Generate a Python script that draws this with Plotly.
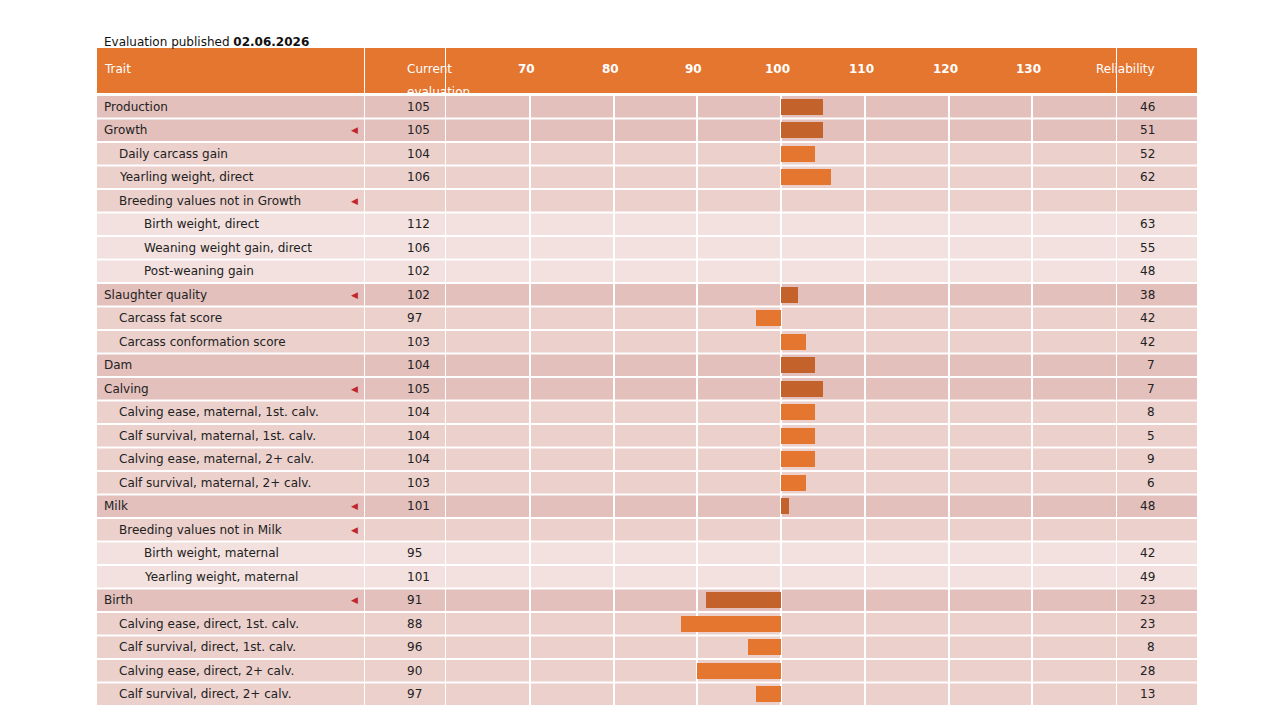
import plotly.graph_objects as go

traits = ["Production", "Growth", "Daily carcass gain", "Yearling weight, direct",
          "Breeding values not in Growth", "Birth weight, direct", "Weaning weight gain, direct",
          "Post-weaning gain", "Slaughter quality", "Carcass fat score", "Carcass conformation score",
          "Dam", "Calving", "Calving ease, maternal, 1st. calv.", "Calf survival, maternal, 1st. calv.",
          "Calving ease, maternal, 2+ calv.", "Calf survival, maternal, 2+ calv.", "Milk",
          "Breeding values not in Milk", "Birth weight, maternal", "Yearling weight, maternal",
          "Birth", "Calving ease, direct, 1st. calv.", "Calf survival, direct, 1st. calv.",
          "Calving ease, direct, 2+ calv.", "Calf survival, direct, 2+ calv."]
levels = [0, 0, 1, 1, 1, 2, 2, 2, 0, 1, 1, 0, 0, 1, 1, 1, 1, 0, 1, 2, 2, 0, 1, 1, 1, 1]
evaluation = [105, 105, 104, 106, None, 112, 106, 102, 102, 97, 103, 104, 105, 104, 104, 104, 103,
              101, None, 95, 101, 91, 88, 96, 90, 97]
reliability = [46, 51, 52, 62, None, 63, 55, 48, 38, 42, 42, 7, 7, 8, 5, 9, 6, 48, None, 42, 49,
               23, 23, 8, 28, 13]
expandable = ["Growth", "Breeding values not in Growth", "Slaughter quality", "Calving", "Milk",
              "Breeding values not in Milk", "Birth"]
tick_vals = [70, 80, 90, 100, 110, 120, 130]

W, H = 1280, 720
px = lambda x: x / W
py = lambda y: 1 - y / H
ORANGE = "#e5762f"
DARK = "#c4622b"
row_colors = {0: "#e3c0bc", 1: "#ebd0cc", 2: "#f2e1de"}
FONT = "DejaVu Sans"
cols = [(89, 356), (357, 437), (438, 1108), (1109, 1189)]
top, bottom = 87, 698
n = len(traits)

# bars only for rows shown (not in hidden-group children)
bar_y, bar_x, bar_c = [], [], []
for i, (v, lv) in enumerate(zip(evaluation, levels)):
    if v is None or lv == 2:
        continue
    bar_y.append(i)
    bar_x.append(v - 100)
    bar_c.append(DARK if lv == 0 else ORANGE)

fig = go.Figure(go.Bar(x=bar_x, y=bar_y, base=100, orientation="h", marker_color=bar_c,
                       marker_line_width=0, width=0.68, hoverinfo="skip"))

shapes, ann = [], []
# header
for x0, x1 in cols:
    shapes.append(dict(type="rect", xref="paper", yref="paper", x0=px(x0), x1=px(x1),
                       y0=py(85), y1=py(40), fillcolor=ORANGE, line_width=0, layer="below"))
# row cells
for i, lv in enumerate(levels):
    for x0, x1 in cols:
        shapes.append(dict(type="rect", xref="paper", yref="y", x0=px(x0), x1=px(x1),
                           y0=i - 0.46, y1=i + 0.46, fillcolor=row_colors[lv], line_width=0,
                           layer="below"))
    ann.append(dict(x=px(94 + 15 * lv + (5 * lv if lv == 2 else 0)), y=i, xref="paper", yref="y",
                    text=traits[i], showarrow=False, xanchor="left", font=dict(size=12)))
    if evaluation[i] is not None:
        ann.append(dict(x=px(397), y=i, xref="paper", yref="y", text=str(evaluation[i]),
                        showarrow=False, font=dict(size=12)))
        ann.append(dict(x=px(1149), y=i, xref="paper", yref="y", text=str(reliability[i]),
                        showarrow=False, font=dict(size=12)))
    if traits[i] in expandable:
        ann.append(dict(x=px(352), y=i, xref="paper", yref="y", text="◀", showarrow=False,
                        xanchor="right", font=dict(size=9, color="#c0272d")))

hdr = dict(color="white", size=12)
ann += [
    dict(x=px(94), y=py(52), xref="paper", yref="paper", text="Trait", showarrow=False,
         xanchor="left", font=hdr),
    dict(x=px(397), y=py(52), xref="paper", yref="paper", text="Current", showarrow=False, font=hdr),
    dict(x=px(397), y=py(75), xref="paper", yref="paper", text="evaluation", showarrow=False, font=hdr),
    dict(x=px(1149), y=py(52), xref="paper", yref="paper", text="Reliability", showarrow=False,
         font=hdr),
    dict(x=px(94), y=py(25), xref="paper", yref="paper",
         text="Evaluation published <b>02.06.2026</b>", showarrow=False, xanchor="left",
         font=dict(size=12, color="#111")),
]
for t in tick_vals:
    ann.append(dict(x=t - 0.4, y=py(52), xref="x", yref="paper", text=f"<b>{t}</b>",
                    showarrow=False, font=hdr))

fig.update_layout(
    width=W, height=H, margin=dict(l=0, r=0, t=0, b=0),
    paper_bgcolor="white", plot_bgcolor="rgba(0,0,0,0)",
    font=dict(family=FONT, color="#222"),
    showlegend=False, shapes=shapes, annotations=ann, bargap=0,
    xaxis=dict(domain=[px(438), px(1108)], range=[60, 140], tickvals=tick_vals,
               showticklabels=False, showgrid=True, gridcolor="white", gridwidth=1.5,
               zeroline=False, layer="above traces", fixedrange=True),
    yaxis=dict(domain=[py(bottom), py(top)], range=[n - 0.5, -0.5], showticklabels=False,
               showgrid=False, zeroline=False, fixedrange=True),
)
fig.write_html("out.html")
